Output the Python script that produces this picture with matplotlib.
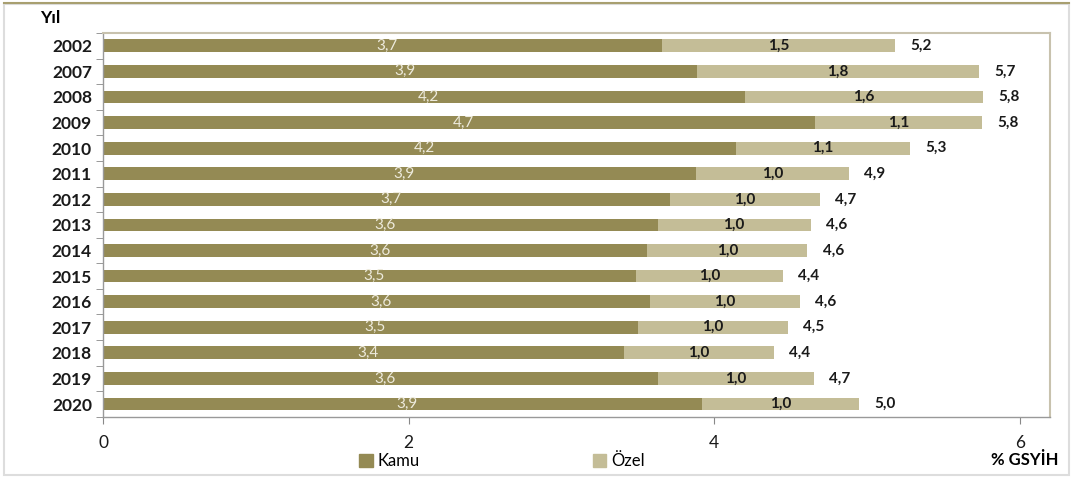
import matplotlib
matplotlib.use('Agg')
from matplotlib import pyplot as plt
from matplotlib.patches import Rectangle
from matplotlib.lines import Line2D
import numpy as np

# Data (% of GDP)
years = ['2002', '2007', '2008', '2009', '2010', '2011', '2012', '2013',
         '2014', '2015', '2016', '2017', '2018', '2019', '2020']
kamu = [3.66, 3.89, 4.20, 4.66, 4.14, 3.88, 3.71, 3.63, 3.56, 3.49, 3.58, 3.50, 3.41, 3.63, 3.92]
ozel = [1.52, 1.84, 1.56, 1.09, 1.14, 1.00, 0.98, 1.00, 1.05, 0.96, 0.98, 0.98, 0.98, 1.02, 1.03]
kamu_labels = ['3,7', '3,9', '4,2', '4,7', '4,2', '3,9', '3,7', '3,6', '3,6', '3,5', '3,6', '3,5', '3,4', '3,6', '3,9']
ozel_labels = ['1,5', '1,8', '1,6', '1,1', '1,1', '1,0', '1,0', '1,0', '1,0', '1,0', '1,0', '1,0', '1,0', '1,0', '1,0']
total_labels = ['5,2', '5,7', '5,8', '5,8', '5,3', '4,9', '4,7', '4,6', '4,6', '4,4', '4,6', '4,5', '4,4', '4,7', '5,0']
xticks = [0, 2, 4, 6]

KAMU_C = '#948A54'
OZEL_C = '#C4BD97'

plt.rcParams['font.family'] = ['Lato', 'DejaVu Sans']

fig = plt.figure(figsize=(10.73, 4.78), dpi=100)
ax = fig.add_axes([0.096, 0.128, 0.883, 0.803])

y = np.arange(len(years))
kamu = np.array(kamu)
ozel = np.array(ozel)
ax.barh(y, kamu, height=0.5, color=KAMU_C, label='Kamu')
ax.barh(y, ozel, left=kamu, height=0.5, color=OZEL_C, label='Özel')

for i in range(len(years)):
    ax.text(kamu[i] / 2 + 0.03, y[i], kamu_labels[i], ha='center', va='center',
            color='#EDEADC', fontsize=11)
    ax.text(kamu[i] + ozel[i] / 2, y[i], ozel_labels[i], ha='center', va='center',
            color='#1a1a1a', fontsize=11, fontweight='bold')
    ax.text(kamu[i] + ozel[i] + 0.1, y[i], total_labels[i], ha='left', va='center',
            color='#1a1a1a', fontsize=11, fontweight='bold')

ax.set_xlim(0, 6.2)
ax.set_ylim(len(years) - 0.5, -0.5)
ax.set_xticks(xticks)
ax.set_xticklabels([str(t) for t in xticks], fontsize=12.5, color='#1a1a1a')
ax.set_yticks(y)
ax.set_yticklabels(years, fontsize=12.5, color='#1a1a1a', fontweight='bold')
ax.set_yticks(np.arange(len(years) + 1) - 0.5, minor=True)
ax.tick_params(axis='y', which='major', length=0, pad=8)
ax.tick_params(axis='y', which='minor', length=5, color='#888888', direction='out')
ax.tick_params(axis='x', length=5, color='#888888', pad=8)

for side in ['top', 'right']:
    ax.spines[side].set_color('#C8C2AE')
    ax.spines[side].set_linewidth(1.5)
for side in ['left', 'bottom']:
    ax.spines[side].set_color('#999999')
    ax.spines[side].set_linewidth(1.0)

fig.text(0.047, 0.963, 'Yıl', fontsize=12.5, fontweight='bold', ha='center', va='center')
fig.text(0.955, 0.038, '% GSYİH', fontsize=12, fontweight='bold', ha='center', va='center')

handles = [Rectangle((0, 0), 1, 1, color=KAMU_C), Rectangle((0, 0), 1, 1, color=OZEL_C)]
fig.legend(handles, ['Kamu', 'Özel'], loc='center', bbox_to_anchor=(0.468, 0.035),
           ncol=2, frameon=False, fontsize=12, handlelength=0.8, handleheight=0.8,
           columnspacing=10.4, handletextpad=0.3)

# outer frame
fig.patches.append(Rectangle((0.004, 0.006), 0.992, 0.985, transform=fig.transFigure,
                             fill=False, edgecolor='#DDDDDD', linewidth=1.5))
fig.lines.append(Line2D([0.004, 0.996], [0.993, 0.993], transform=fig.transFigure,
                        color='#A89F70', linewidth=1.5))

fig.savefig('out.png', dpi=100)
